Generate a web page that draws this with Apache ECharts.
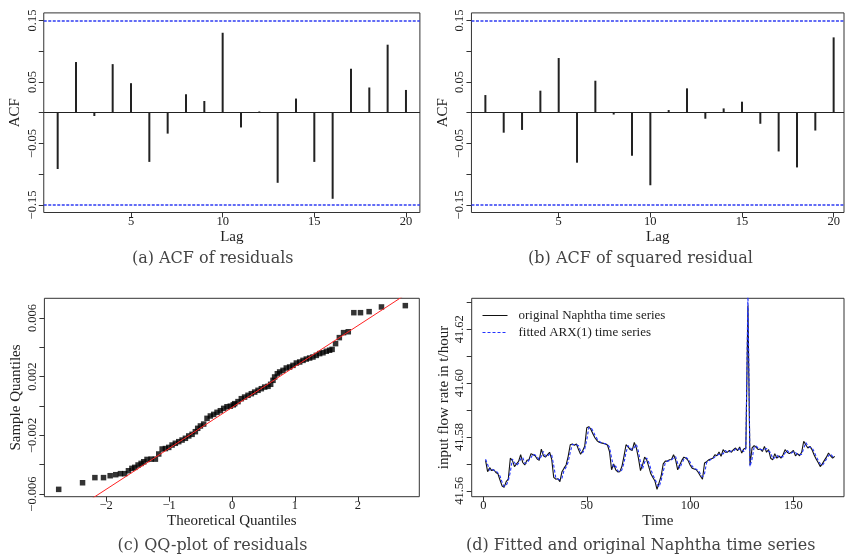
<!DOCTYPE html>
<html>
<head>
<meta charset="utf-8">
<script src="https://cdn.jsdelivr.net/npm/echarts@6/dist/echarts.min.js"></script>
<style>
html, body { margin: 0; padding: 0; background: #fff; }
#chart { width: 845px; height: 558px; }
</style>
</head>
<body>
<div id="chart"></div>
<script>
// ---- data ----
var lags = [1, 2, 3, 4, 5, 6, 7, 8, 9, 10, 11, 12, 13, 14, 15, 16, 17, 18, 19, 20];
var acfResid = [-0.0916, 0.0824, -0.0054, 0.0790, 0.0480, -0.0800, -0.0340, 0.0300, 0.0190, 0.1300,
                -0.0240, 0.0020, -0.1140, 0.0230, -0.0800, -0.1400, 0.0715, 0.0410, 0.1106, 0.0370];
var acfSqResid = [0.0287, -0.0325, -0.0280, 0.0358, 0.0889, -0.0813, 0.0520, -0.0030, -0.0700, -0.1180,
                  0.0043, 0.0396, -0.0098, 0.0070, 0.0179, -0.0180, -0.0630, -0.0890, -0.0290, 0.1225];
var ciBound = 0.1503;
var acfTicks = [-0.15, -0.10, -0.05, 0, 0.05, 0.10, 0.15];
var acfLabels = [-0.15, -0.05, 0.05, 0.15];
var lagLabels = [5, 10, 15, 20];

var qqTheo = [-2.753, -2.374, -2.178, -2.041, -1.935, -1.847, -1.772, -1.705, -1.645, -1.590,
              -1.545, -1.492, -1.444, -1.402, -1.350, -1.286, -1.217, -1.164, -1.110, -1.058,
              -1.005, -0.952, -0.900, -0.846, -0.793, -0.740, -0.687, -0.634, -0.582, -0.545,
              -0.502, -0.450, -0.397, -0.344, -0.291, -0.238, -0.185, -0.132, -0.080, -0.027,
              0.020, 0.043, 0.095, 0.148, 0.200, 0.254, 0.307, 0.360, 0.413, 0.466,
              0.519, 0.572, 0.614, 0.651, 0.677, 0.720, 0.757, 0.810, 0.862, 0.915,
              0.968, 1.022, 1.075, 1.128, 1.180, 1.233, 1.286, 1.339, 1.392, 1.445,
              1.498, 1.550, 1.590, 1.645, 1.705, 1.772, 1.847, 1.935, 2.041, 2.178,
              2.374, 2.753];
var qqSample = [-0.00568, -0.00523, -0.00488, -0.00488, -0.00475, -0.00468, -0.00461, -0.00461, -0.00441, -0.00425,
                -0.00418, -0.00402, -0.00391, -0.00380, -0.00364, -0.00362, -0.00362, -0.00327, -0.00293, -0.00290,
                -0.00282, -0.00266, -0.00254, -0.00243, -0.00232, -0.00220, -0.00204, -0.00193, -0.00175, -0.00152,
                -0.00136, -0.00123, -0.00084, -0.00068, -0.00057, -0.00043, -0.00032, -0.00016, -0.00005, -0.00001,
                0.00008, 0.00016, 0.00030, 0.00050, 0.00061, 0.00073, 0.00084, 0.00095, 0.00107, 0.00118,
                0.00129, 0.00134, 0.00148, 0.00175, 0.00198, 0.00220, 0.00232, 0.00243, 0.00259, 0.00266,
                0.00277, 0.00293, 0.00300, 0.00311, 0.00320, 0.00327, 0.00334, 0.00345, 0.00357, 0.00363,
                0.00373, 0.00380, 0.00386, 0.00425, 0.00466, 0.00500, 0.00506, 0.00636, 0.00636, 0.00643,
                0.00675, 0.00684];
var qqIntercept = -0.0001;
var qqSlope = 0.00279;
var qqXTicks = [-2, -1, 0, 1, 2];
var qqYTicks = [-0.006, -0.004, -0.002, 0, 0.002, 0.004, 0.006];
var qqYLabels = [-0.006, -0.002, 0.002, 0.006];

var naphthaOrig = [
  41.5713, 41.5671, 41.5686, 41.5675, 41.5678, 41.5668, 41.5663, 41.5640, 41.5618, 41.5613,
  41.5634, 41.5643, 41.5721, 41.5713, 41.5690, 41.5700, 41.5709, 41.5734, 41.5705, 41.5696,
  41.5713, 41.5715, 41.5738, 41.5734, 41.5730, 41.5718, 41.5713, 41.5755, 41.5730, 41.5725,
  41.5734, 41.5743, 41.5718, 41.5650, 41.5643, 41.5645, 41.5634, 41.5671, 41.5684, 41.5696,
  41.5728, 41.5771, 41.5774, 41.5769, 41.5774, 41.5753, 41.5736, 41.5749, 41.5765, 41.5834,
  41.5838, 41.5828, 41.5811, 41.5796, 41.5786, 41.5780, 41.5778, 41.5776, 41.5774, 41.5770,
  41.5746, 41.5678, 41.5700, 41.5678, 41.5670, 41.5671, 41.5690, 41.5728, 41.5771, 41.5763,
  41.5753, 41.5750, 41.5780, 41.5759, 41.5721, 41.5675, 41.5696, 41.5725, 41.5715, 41.5690,
  41.5663, 41.5649, 41.5636, 41.5605, 41.5630, 41.5655, 41.5700, 41.5710, 41.5710, 41.5715,
  41.5716, 41.5734, 41.5715, 41.5678, 41.5696, 41.5713, 41.5725, 41.5721, 41.5713, 41.5696,
  41.5684, 41.5681, 41.5678, 41.5668, 41.5655, 41.5643, 41.5703, 41.5708, 41.5715, 41.5718,
  41.5721, 41.5734, 41.5730, 41.5744, 41.5728, 41.5753, 41.5743, 41.5743, 41.5750, 41.5743,
  41.5753, 41.5759, 41.5749, 41.5763, 41.5740, 41.5755, 41.5759, 41.6288, 41.5696, 41.5759,
  41.5768, 41.5761, 41.5753, 41.5755, 41.5746, 41.5765, 41.5743, 41.5753, 41.5721, 41.5715,
  41.5738, 41.5721, 41.5730, 41.5721, 41.5734, 41.5753, 41.5743, 41.5738, 41.5743, 41.5750,
  41.5730, 41.5738, 41.5730, 41.5743, 41.5784, 41.5771, 41.5759, 41.5765, 41.5753, 41.5734,
  41.5718, 41.5705, 41.5690, 41.5700, 41.5713, 41.5725, 41.5740, 41.5730, 41.5721, 41.5728
];
var naphthaFitted = [
  41.5717, 41.5698, 41.5676, 41.5682, 41.5676, 41.5675, 41.5666, 41.5655, 41.5632, 41.5616,
  41.5620, 41.5637, 41.5670, 41.5718, 41.5705, 41.5694, 41.5703, 41.5718, 41.5724, 41.5702,
  41.5702, 41.5714, 41.5723, 41.5737, 41.5733, 41.5726, 41.5716, 41.5728, 41.5746, 41.5728,
  41.5728, 41.5737, 41.5734, 41.5694, 41.5648, 41.5644, 41.5641, 41.5647, 41.5676, 41.5688,
  41.5707, 41.5743, 41.5772, 41.5772, 41.5771, 41.5767, 41.5747, 41.5741, 41.5755, 41.5789,
  41.5835, 41.5835, 41.5822, 41.5806, 41.5793, 41.5784, 41.5779, 41.5777, 41.5775, 41.5773,
  41.5762, 41.5722, 41.5686, 41.5692, 41.5675, 41.5670, 41.5678, 41.5703, 41.5743, 41.5768,
  41.5760, 41.5752, 41.5761, 41.5773, 41.5746, 41.5705, 41.5682, 41.5706, 41.5722, 41.5706,
  41.5681, 41.5658, 41.5644, 41.5625, 41.5614, 41.5639, 41.5671, 41.5704, 41.5710, 41.5712,
  41.5715, 41.5722, 41.5727, 41.5702, 41.5684, 41.5702, 41.5717, 41.5724, 41.5718, 41.5707,
  41.5692, 41.5683, 41.5680, 41.5675, 41.5663, 41.5651, 41.5664, 41.5705, 41.5710, 41.5716,
  41.5719, 41.5726, 41.5733, 41.5735, 41.5738, 41.5737, 41.5750, 41.5743, 41.5745, 41.5748,
  41.5747, 41.5755, 41.5756, 41.5754, 41.5755, 41.5745, 41.5756, 41.6340, 41.5690, 41.5718,
  41.5762, 41.5766, 41.5758, 41.5754, 41.5752, 41.5753, 41.5757, 41.5747, 41.5742, 41.5719,
  41.5723, 41.5732, 41.5724, 41.5727, 41.5726, 41.5741, 41.5750, 41.5741, 41.5740, 41.5745,
  41.5743, 41.5733, 41.5735, 41.5735, 41.5757, 41.5779, 41.5767, 41.5761, 41.5761, 41.5746,
  41.5728, 41.5713, 41.5700, 41.5694, 41.5705, 41.5717, 41.5730, 41.5737, 41.5727, 41.5723
];
var timeLabels = [0, 50, 100, 150];
var flowTicks = [41.56, 41.57, 41.58, 41.59, 41.60, 41.61, 41.62, 41.63];
var flowLabels = [41.56, 41.58, 41.60, 41.62];

var captions = ['(a) ACF of residuals', '(b) ACF of squared residual',
                '(c) QQ-plot of residuals', '(d) Fitted and original Naphtha time series'];

// ---- chart ----
var SERIF = '"Liberation Serif", "Times New Roman", serif';
var INK = '#222';
var chartDom = document.getElementById('chart');
var myChart = echarts.init(chartDom, null, { renderer: 'canvas' });

function minus(s) { return s.replace('-', '\u2212'); }

function grid(left, top, width, height) {
    return {
        left: left, top: top, width: width, height: height,
        show: true, borderColor: '#333', borderWidth: 1,
        backgroundColor: 'transparent', containLabel: false
    };
}

function axis(dim, gridIndex, min, max, ticks, labels, fmt, name, nameGap) {
    var a = {
        type: 'value', gridIndex: gridIndex, min: min, max: max,
        axisLine: { show: false, onZero: false },
        splitLine: { show: false },
        axisTick: { show: true, length: 5, customValues: ticks, lineStyle: { color: '#333', width: 1 } },
        axisLabel: {
            customValues: labels, formatter: fmt, fontFamily: SERIF, fontSize: 12.5,
            color: INK, margin: dim === 'x' ? 3 : 5
        },
        name: name, nameLocation: 'middle', nameGap: nameGap,
        nameTextStyle: { fontFamily: SERIF, fontSize: 15, color: INK }
    };
    if (dim === 'y') {
        a.axisLabel.rotate = 90;
    }
    return a;
}

function acfMarkLines() {
    var blue = { color: '#2f3cf2', width: 1.5, type: [3, 1.5] };
    return {
        silent: true, symbol: ['none', 'none'], label: { show: false },
        animation: false,
        data: [
            { yAxis: 0, lineStyle: { color: INK, width: 1, type: 'solid' } },
            { yAxis: ciBound, lineStyle: blue },
            { yAxis: -ciBound, lineStyle: blue }
        ]
    };
}

var fmt2 = function (v) { return minus(v.toFixed(2)); };
var fmt3 = function (v) { return minus(v.toFixed(3)); };
var fmtInt = function (v) { return minus(String(Math.round(v))); };

var option = {
    animation: false,
    backgroundColor: '#fff',
    grid: [
        grid(43.75, 12.9, 376.15, 199.6),
        grid(471.45, 12.9, 372.55, 199.6),
        grid(44.4, 298.3, 374.9, 198.4),
        grid(471.7, 298.3, 372.3, 198.4)
    ],
    xAxis: [
        axis('x', 0, 0.24, 20.76, lagLabels, lagLabels, fmtInt, 'Lag', 15),
        axis('x', 1, 0.24, 20.565, lagLabels, lagLabels, fmtInt, 'Lag', 15),
        axis('x', 2, -2.98, 2.975, qqXTicks, qqXTicks, fmtInt, 'Theoretical Quantiles', 15),
        axis('x', 3, -5.7, 174.5, timeLabels, timeLabels, fmtInt, 'Time', 15)
    ],
    yAxis: [
        axis('y', 0, -0.1623, 0.1623, acfTicks, acfLabels, fmt2, 'ACF', 21),
        axis('y', 1, -0.1623, 0.1623, acfTicks, acfLabels, fmt2, 'ACF', 21),
        axis('y', 2, -0.00618, 0.00734, qqYTicks, qqYLabels, fmt3, 'Sample Quantiles', 21),
        axis('y', 3, 41.5578, 41.6315, flowTicks, flowLabels, fmt2, 'input flow rate in t/hour', 20)
    ],
    legend: {
        left: 482, top: 309, orient: 'vertical', padding: 0,
        itemWidth: 25, itemHeight: 10, itemGap: 4,
        itemStyle: { opacity: 0 },
        lineStyle: { width: 1 },
        textStyle: { fontFamily: SERIF, fontSize: 13, color: INK, padding: [0, 0, 0, 6] },
        data: ['original Naphtha time series', 'fitted ARX(1) time series']
    },
    graphic: [
        [212.7, 259], [640.5, 259], [212.5, 545.5], [640.8, 545.5]
    ].map(function (p, i) {
        return {
            type: 'text', x: p[0], y: p[1], silent: true,
            style: {
                text: captions[i], fill: '#444', fontFamily: '"DejaVu Serif", serif', fontSize: 16,
                textAlign: 'center', align: 'center', textVerticalAlign: 'middle', verticalAlign: 'middle'
            }
        };
    }),
    series: [
        {
            type: 'bar', xAxisIndex: 0, yAxisIndex: 0, barWidth: 2,
            itemStyle: { color: INK },
            data: lags.map(function (l, i) { return [l, acfResid[i]]; }),
            markLine: acfMarkLines()
        },
        {
            type: 'bar', xAxisIndex: 1, yAxisIndex: 1, barWidth: 2,
            itemStyle: { color: INK },
            data: lags.map(function (l, i) { return [l, acfSqResid[i]]; }),
            markLine: acfMarkLines()
        },
        {
            type: 'line', xAxisIndex: 2, yAxisIndex: 2, symbol: 'none', clip: true,
            lineStyle: { color: '#ff2222', width: 1 },
            data: [-3.5, 3.5].map(function (q) { return [q, qqIntercept + qqSlope * q]; }),
            z: 3
        },
        {
            type: 'scatter', xAxisIndex: 2, yAxisIndex: 2, symbol: 'rect', symbolSize: 5.5,
            itemStyle: { color: '#000' },
            data: qqTheo.map(function (q, i) { return [q, qqSample[i]]; }),
            z: 2
        },
        {
            name: 'original Naphtha time series',
            type: 'line', xAxisIndex: 3, yAxisIndex: 3, symbol: 'none', clip: true,
            lineStyle: { color: '#111', width: 1.1 },
            itemStyle: { color: '#111' },
            data: naphthaOrig.map(function (v, i) { return [i + 1, v]; })
        },
        {
            name: 'fitted ARX(1) time series',
            type: 'line', xAxisIndex: 3, yAxisIndex: 3, symbol: 'none', clip: true,
            lineStyle: { color: '#2233ff', width: 1.1, type: [3, 2] },
            itemStyle: { color: '#2233ff' },
            data: naphthaFitted.map(function (v, i) { return [i + 1, v]; })
        }
    ]
};

option && myChart.setOption(option);
window.addEventListener('resize', function () {
    myChart.resize();
});
</script>
</body>
</html>
